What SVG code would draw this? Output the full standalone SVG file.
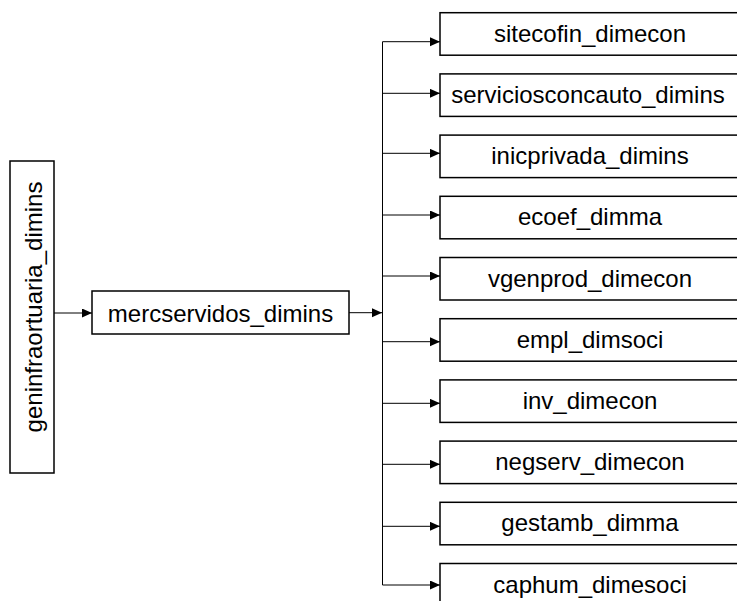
<svg xmlns="http://www.w3.org/2000/svg" width="737" height="601" viewBox="0 0 737 601">
<style>
.box{fill:#fff;stroke:#000;stroke-width:1.5}
.lbl{font-family:"Liberation Sans",Arial,sans-serif;font-size:24px;fill:#000;text-anchor:middle}
.con{fill:none;stroke:#000;stroke-width:1}
</style>
<defs>
<marker id="ah" markerUnits="userSpaceOnUse" markerWidth="11" markerHeight="10" refX="10" refY="4.5" orient="auto">
<path d="M0,0 L10,4.5 L0,9 z" fill="#000"/>
</marker>
</defs>
<g id="connectors">
<line class="con" x1="54" y1="313" x2="92" y2="313" marker-end="url(#ah)"/>
<line class="con" x1="349" y1="312.7" x2="382" y2="312.7" marker-end="url(#ah)"/>
<line class="con" x1="382.5" y1="41.7" x2="382.5" y2="585"/>
<line class="con" x1="382.5" y1="41.7" x2="440" y2="41.7" marker-end="url(#ah)"/>
<line class="con" x1="382.5" y1="93.3" x2="440" y2="93.3" marker-end="url(#ah)"/>
<line class="con" x1="382.5" y1="153.3" x2="440" y2="153.3" marker-end="url(#ah)"/>
<line class="con" x1="382.5" y1="215" x2="440" y2="215" marker-end="url(#ah)"/>
<line class="con" x1="382.5" y1="276" x2="440" y2="276" marker-end="url(#ah)"/>
<line class="con" x1="382.5" y1="341.7" x2="440" y2="341.7" marker-end="url(#ah)"/>
<line class="con" x1="382.5" y1="403.3" x2="440" y2="403.3" marker-end="url(#ah)"/>
<line class="con" x1="382.5" y1="464.3" x2="440" y2="464.3" marker-end="url(#ah)"/>
<line class="con" x1="382.5" y1="526.3" x2="440" y2="526.3" marker-end="url(#ah)"/>
<line class="con" x1="382.5" y1="585" x2="440" y2="585" marker-end="url(#ah)"/>
</g>
<g id="geninfraortuaria_dimins">
<rect class="box" x="10" y="161" width="44" height="312"/>
<text class="lbl" transform="translate(42,307) rotate(-90)" x="0" y="0">geninfraortuaria_dimins</text>
</g>
<g id="mercservidos_dimins">
<rect class="box" x="92" y="291" width="257" height="43"/>
<text class="lbl" x="220.5" y="321.5">mercservidos_dimins</text>
</g>
<g id="sitecofin_dimecon">
<rect class="box" x="440" y="12.7" width="305" height="42.5"/>
<text class="lbl" x="590" y="41.7">sitecofin_dimecon</text>
</g>
<g id="serviciosconcauto_dimins">
<rect class="box" x="440" y="73.9" width="305" height="42.5"/>
<text class="lbl" x="588" y="102.9">serviciosconcauto_dimins</text>
</g>
<g id="inicprivada_dimins">
<rect class="box" x="440" y="135.1" width="305" height="42.5"/>
<text class="lbl" x="590" y="164.1">inicprivada_dimins</text>
</g>
<g id="ecoef_dimma">
<rect class="box" x="440" y="196.3" width="305" height="42.5"/>
<text class="lbl" x="590" y="225.3">ecoef_dimma</text>
</g>
<g id="vgenprod_dimecon">
<rect class="box" x="440" y="257.5" width="305" height="42.5"/>
<text class="lbl" x="590" y="286.5">vgenprod_dimecon</text>
</g>
<g id="empl_dimsoci">
<rect class="box" x="440" y="318.7" width="305" height="42.5"/>
<text class="lbl" x="590" y="347.7">empl_dimsoci</text>
</g>
<g id="inv_dimecon">
<rect class="box" x="440" y="379.9" width="305" height="42.5"/>
<text class="lbl" x="590" y="408.9">inv_dimecon</text>
</g>
<g id="negserv_dimecon">
<rect class="box" x="440" y="441.1" width="305" height="42.5"/>
<text class="lbl" x="590" y="470.1">negserv_dimecon</text>
</g>
<g id="gestamb_dimma">
<rect class="box" x="440" y="502.3" width="305" height="42.5"/>
<text class="lbl" x="590" y="531.3">gestamb_dimma</text>
</g>
<g id="caphum_dimesoci">
<rect class="box" x="440" y="563.5" width="305" height="42.5"/>
<text class="lbl" x="590" y="592.5">caphum_dimesoci</text>
</g>
</svg>
